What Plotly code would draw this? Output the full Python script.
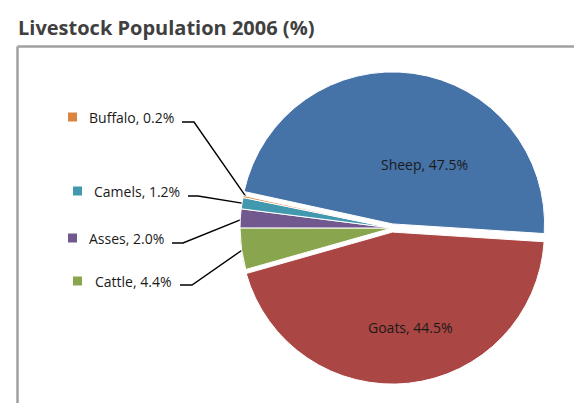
import math
import plotly.graph_objects as go

# ---- data ----
labels = ["Sheep", "Goats", "Cattle", "Asses", "Camels", "Buffalo"]
values = [47.5, 44.5, 4.4, 2.0, 1.2, 0.2]
colors = ["#4572A7", "#AA4643", "#89A54E", "#71588F", "#4198AF", "#DB843D"]
pulls = [0.027, 0.027, 0, 0, 0, 0]
title_text = "Livestock Population 2006 (%)"

# ---- layout constants (page pixels) ----
PW, PH = 582, 403          # page size
OFF = 8                    # default body margin of the html page
W, H = PW - OFF, PH - OFF  # figure size
cx, cy, R = 392, 228, 152  # pie centre / radius in page pixels
start_deg = 167.7          # math angle where the first slice (Sheep) starts, going clockwise
half = R * (1 + max(pulls))

font_fam = "Open Sans, Noto Sans, sans-serif"

def X(px):
    return px - OFF

def Y(py):
    return py - OFF

fig = go.Figure()

fig.add_trace(go.Pie(
    labels=labels, values=values, sort=False, direction="clockwise",
    rotation=90 - start_deg, pull=pulls,
    marker=dict(colors=colors, line=dict(color="white", width=1)),
    textinfo="none", hoverinfo="label+percent", showlegend=False,
    domain=dict(x=[X(cx - half) / W, X(cx + half) / W],
                y=[1 - Y(cy + half) / H, 1 - Y(cy - half) / H]),
))

total = sum(values)
mid_angle = {}
cum = 0
for lab, v in zip(labels, values):
    mid_angle[lab] = start_deg - (cum + v / 2) / total * 360
    cum += v

def fmt(lab, v):
    return f"{lab}, {v:.1f}%"

annotations = []
shapes = []

# title
annotations.append(dict(x=X(16), y=Y(27), xref="x", yref="y", xanchor="left", yanchor="middle",
                        text=f"<b>{title_text}</b>", showarrow=False,
                        font=dict(family=font_fam, size=20, color="#404040")))

# inside labels for big slices
inside_pos = {"Sheep": (424, 164), "Goats": (410, 327)}
for lab, (px, py) in inside_pos.items():
    v = values[labels.index(lab)]
    annotations.append(dict(x=X(px), y=Y(py), xref="x", yref="y", xanchor="center", yanchor="middle",
                            text=fmt(lab, v), showarrow=False,
                            font=dict(family=font_fam, size=14, color="#1a1a1a")))

# callout labels for small slices:
# (square left x, text left x, text centre y, leader start x, leader elbow x, leader y)
callouts = {
    "Buffalo": (68, 87, 117, 182, 194, 122),
    "Camels": (73, 92, 191, 188, 198, 196),
    "Asses": (68, 87, 238, 172, 183, 243),
    "Cattle": (73, 93, 281, 180, 192, 285),
}
for lab, (sx, tx, ty, lx0, lx1, ly) in callouts.items():
    i = labels.index(lab)
    v = values[i]
    annotations.append(dict(x=X(tx), y=Y(ty), xref="x", yref="y", xanchor="left", yanchor="middle",
                            text=fmt(lab, v), showarrow=False,
                            font=dict(family=font_fam, size=14, color="#1a1a1a")))
    shapes.append(dict(type="rect", xref="x", yref="y", x0=X(sx), x1=X(sx + 9),
                       y0=Y(ty - 4.5), y1=Y(ty + 4.5),
                       fillcolor=colors[i], line=dict(width=0)))
    # leader line to the slice edge
    a = math.radians(mid_angle[lab])
    ex = cx + R * 0.98 * math.cos(a)
    ey = cy - R * 0.98 * math.sin(a)
    fig.add_trace(go.Scatter(x=[X(lx0), X(lx1), X(ex)], y=[Y(ly), Y(ly), Y(ey)], mode="lines",
                             line=dict(color="black", width=1.4), hoverinfo="skip",
                             showlegend=False))

# border (partial frame)
shapes.append(dict(type="line", xref="x", yref="y", x0=X(17.5), x1=W + 5, y0=Y(46.5), y1=Y(46.5),
                   line=dict(color="#A0A0A0", width=2.5)))
shapes.append(dict(type="line", xref="x", yref="y", x0=X(17.5), x1=X(17.5), y0=Y(46.5), y1=H + 5,
                   line=dict(color="#A0A0A0", width=2.5)))

fig.update_layout(
    width=W, height=H, margin=dict(l=0, r=0, t=0, b=0),
    paper_bgcolor="white", plot_bgcolor="rgba(0,0,0,0)",
    xaxis=dict(range=[0, W], visible=False, fixedrange=True, domain=[0, 1]),
    yaxis=dict(range=[H, 0], visible=False, fixedrange=True, domain=[0, 1]),
    annotations=annotations, shapes=shapes, showlegend=False,
)

fig.write_html("out.html")
